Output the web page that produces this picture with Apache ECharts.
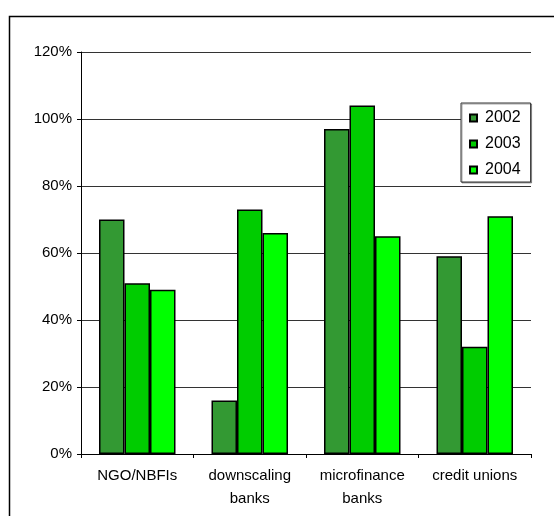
<!DOCTYPE html>
<html>
<head>
<meta charset="utf-8">
<script src="https://cdn.jsdelivr.net/npm/echarts@6/dist/echarts.min.js"></script>
<style>
  html, body { margin: 0; padding: 0; background: #fff; }
  #chart { width: 554px; height: 516px; }
</style>
</head>
<body>
<div id="chart"></div>
<script>
// Institution types on the x axis
const categories = ['NGO/NBFIs', 'downscaling\nbanks', 'microfinance\nbanks', 'credit unions'];
// Percentages per year
const years = ['2002', '2003', '2004'];
const values2002 = [70, 16, 97, 59];
const values2003 = [51, 73, 104, 32];
const values2004 = [49, 66, 65, 71];
// Y axis range
const yTicks = { min: 0, max: 120, step: 20 };

const colors = ['#339933', '#00CC00', '#00FF00'];
const seriesValues = [values2002, values2003, values2004];
const font = 'Liberation Sans, Arial, sans-serif';

const chart = echarts.init(document.getElementById('chart'), null, { renderer: 'canvas' });

chart.setOption({
  animation: false,
  backgroundColor: '#fff',
  textStyle: { fontFamily: font },
  graphic: [{
    type: 'rect',
    shape: { x: 9.5, y: 16.5, width: 620, height: 620 },
    style: { fill: 'none', stroke: '#000', lineWidth: 1.5 },
    z: 0
  }],
  grid: { left: 81, right: 23, top: 52, bottom: 62, containLabel: false },
  legend: {
    orient: 'vertical',
    left: 461,
    top: 103,
    data: years,
    icon: 'rect',
    itemWidth: 7,
    itemHeight: 7,
    itemGap: 10,
    padding: [7, 10, 4, 8],
    backgroundColor: '#fff',
    borderColor: '#333',
    borderWidth: 1,
    shadowColor: 'rgba(0,0,0,0.35)',
    shadowOffsetX: 1,
    shadowOffsetY: 1,
    textStyle: { fontFamily: font, fontSize: 16, color: '#000', lineHeight: 16, padding: [0, 0, 0, 3] }
  },
  xAxis: {
    type: 'category',
    data: categories,
    axisLine: { lineStyle: { color: '#000', width: 1 } },
    axisTick: { show: true, length: 4, lineStyle: { color: '#000' } },
    axisLabel: { color: '#000', fontSize: 15, fontFamily: font, lineHeight: 23, margin: 10, interval: 0 }
  },
  yAxis: {
    type: 'value',
    min: yTicks.min,
    max: yTicks.max,
    interval: yTicks.step,
    axisLine: { show: true, lineStyle: { color: '#000', width: 1 } },
    axisTick: { show: true, length: 4, lineStyle: { color: '#000' } },
    axisLabel: { formatter: '{value}%', color: '#000', fontSize: 15, fontFamily: font, margin: 9 },
    splitLine: { show: true, lineStyle: { color: '#333', width: 1 } }
  },
  series: years.map((y, i) => ({
    name: y,
    type: 'bar',
    data: seriesValues[i],
    barGap: '0%',
    barCategoryGap: '32%',
    itemStyle: { color: colors[i], borderColor: '#000', borderWidth: 1.5 }
  }))
});
</script>
</body>
</html>
